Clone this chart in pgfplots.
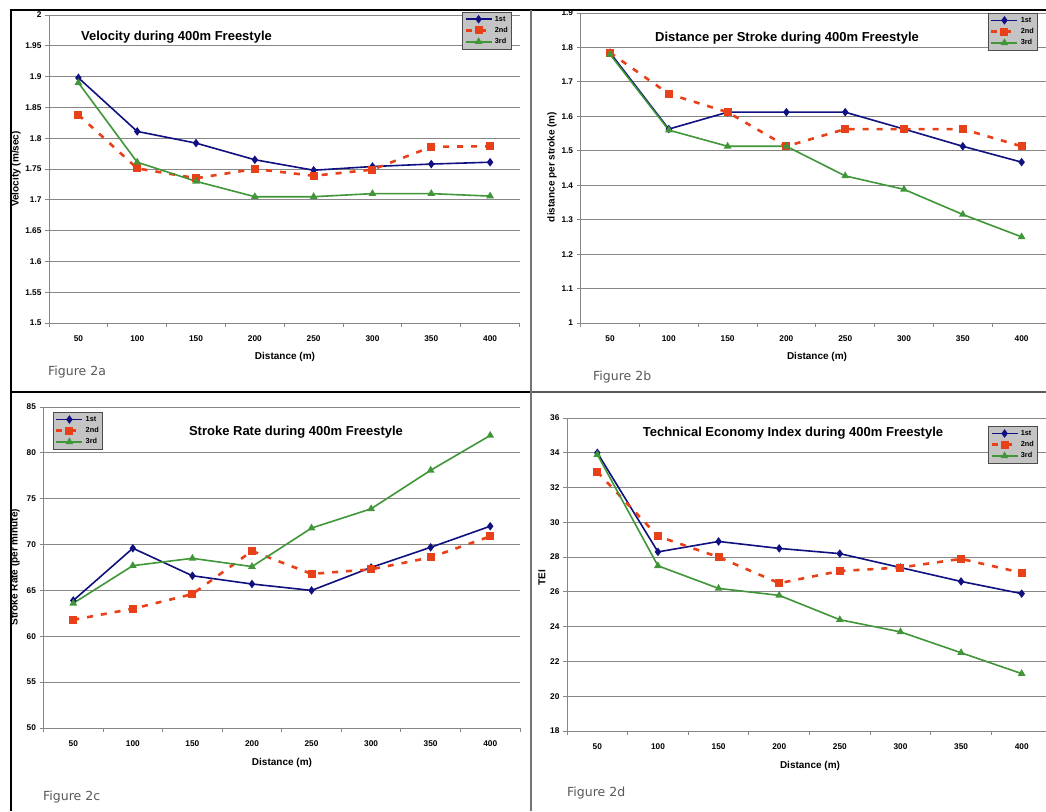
\documentclass[border=0pt]{standalone}
\usepackage{pgfplots}
\pgfplotsset{compat=1.18}
\usepackage{fontspec}
\setmainfont{Liberation Sans}
\newfontfamily\figfont{DejaVu Sans}

\definecolor{cfirst}{RGB}{16,16,128}
\definecolor{csecond}{RGB}{232,64,24}
\definecolor{cthird}{RGB}{64,150,56}
\definecolor{cgrid}{RGB}{135,135,135}
\definecolor{clegend}{RGB}{196,196,196}

\pgfplotsset{
  swim/.style={
    scale only axis,
    anchor=south west,
    xmin=-0.5, xmax=7.5,
    xtick={-0.5,0.5,...,7.5},
    xticklabels={,,,,,,,,,},
    extra x ticks={0,1,2,3,4,5,6,7},
    extra x tick labels={50,100,150,200,250,300,350,400},
    extra x tick style={major tick length=0pt},
    axis lines*=left,
    axis line style={cgrid, line width=0.9pt},
    tick style={cgrid, line width=0.9pt},
    tick align=outside,
    major tick length=4pt,
    ymajorgrids,
    grid style={cgrid, line width=0.9pt},
    /pgf/number format/assume math mode=true,
    tick label style={font=\bfseries\fontsize{8.3}{9}\selectfont},
    xticklabel style={yshift=-9pt},
    legend style={fill=clegend, draw=black!70, line width=0.6pt,
      font=\bfseries\fontsize{7.3}{8}\selectfont, inner sep=1.8pt, row sep=0.5pt,
      cells={anchor=west}},
    legend image code/.code={\draw[mark repeat=2,mark phase=2,##1] plot coordinates {(0pt,0pt) (13pt,0pt) (26pt,0pt)};},
  },
  sfirst/.style={cfirst, line width=1.6pt, mark=diamond*, mark size=3pt, mark options={solid}},
  ssecond/.style={csecond, line width=2.6pt, dash pattern=on 6pt off 8pt, mark=square*, mark size=2.7pt, mark options={solid}},
  sthird/.style={cthird, line width=1.6pt, mark=triangle*, mark size=2.9pt, mark options={solid}},
}

\begin{document}
\begin{tikzpicture}[x=1pt,y=1pt]
\path[use as bounding box] (0,0) rectangle (1046,811);
\fill[white] (0,0) rectangle (1046,811);
\clip (0,0) rectangle (1046,811);

% Figure 2a
\begin{axis}[swim, at={(49pt,488pt)}, width=470.5pt, height=308pt,
  ymin=1.5, ymax=2, ytick={1.5,1.55,1.6,1.65,1.7,1.75,1.8,1.85,1.9,1.95,2},
  legend style={at={(0.984,1.01)}, anchor=north east}]
\addplot[sfirst] coordinates {(0,1.898) (1,1.811) (2,1.792) (3,1.765) (4,1.748) (5,1.754) (6,1.758) (7,1.761)};
\addplot[ssecond] coordinates {(0,1.838) (1,1.751) (2,1.735) (3,1.750) (4,1.739) (5,1.749) (6,1.786) (7,1.787)};
\addplot[sthird] coordinates {(0,1.890) (1,1.761) (2,1.730) (3,1.705) (4,1.705) (5,1.710) (6,1.710) (7,1.706)};
\legend{1st,2nd,3rd}
\end{axis}

% Figure 2b
\begin{axis}[swim, at={(580.6pt,488pt)}, width=470.4pt, height=310pt,
  ymin=1, ymax=1.9, ytick={1,1.1,1.2,1.3,1.4,1.5,1.6,1.7,1.8,1.9},
  legend style={at={(0.972,1.0)}, anchor=north east}]
\addplot[sfirst] coordinates {(0,1.785) (1,1.563) (2,1.612) (3,1.612) (4,1.612) (5,1.563) (6,1.513) (7,1.467)};
\addplot[ssecond] coordinates {(0,1.785) (1,1.665) (2,1.612) (3,1.513) (4,1.563) (5,1.563) (6,1.563) (7,1.513)};
\addplot[sthird] coordinates {(0,1.780) (1,1.560) (2,1.513) (3,1.513) (4,1.427) (5,1.388) (6,1.315) (7,1.250)};
\legend{1st,2nd,3rd}
\end{axis}

% Figure 2c
\begin{axis}[swim, at={(43.5pt,83pt)}, width=476.5pt, height=321pt,
  ymin=50, ymax=85, ytick={50,55,60,65,70,75,80,85},
  legend style={at={(0.02,0.984)}, anchor=north west}]
\addplot[sfirst] coordinates {(0,63.9) (1,69.6) (2,66.6) (3,65.7) (4,65.0) (5,67.5) (6,69.7) (7,72.0)};
\addplot[ssecond] coordinates {(0,61.8) (1,63.0) (2,64.6) (3,69.3) (4,66.8) (5,67.3) (6,68.6) (7,70.9)};
\addplot[sthird] coordinates {(0,63.6) (1,67.7) (2,68.5) (3,67.6) (4,71.8) (5,73.9) (6,78.1) (7,81.9)};
\legend{1st,2nd,3rd}
\end{axis}

% Figure 2d
\begin{axis}[swim, at={(567pt,80pt)}, width=485pt, height=313pt,
  ymin=18, ymax=36, ytick={18,20,22,24,26,28,30,32,34,36},
  legend style={at={(0.971,0.974)}, anchor=north east}]
\addplot[sfirst] coordinates {(0,34.0) (1,28.3) (2,28.9) (3,28.5) (4,28.2) (5,27.4) (6,26.6) (7,25.9)};
\addplot[ssecond] coordinates {(0,32.9) (1,29.2) (2,28.0) (3,26.5) (4,27.2) (5,27.4) (6,27.9) (7,27.1)};
\addplot[sthird] coordinates {(0,33.9) (1,27.5) (2,26.2) (3,25.8) (4,24.4) (5,23.7) (6,22.5) (7,21.3)};
\legend{1st,2nd,3rd}
\end{axis}

% titles
\begin{scope}[every node/.style={font=\bfseries\fontsize{13}{15}\selectfont, inner sep=0pt}]
\node at (176.5,774) {Velocity during 400m Freestyle};
\node at (787,773) {Distance per Stroke during 400m Freestyle};
\node at (296,379) {Stroke Rate during 400m Freestyle};
\node at (793,378) {Technical Economy Index during 400m Freestyle};
\end{scope}

% axis labels
\begin{scope}[every node/.style={font=\bfseries\fontsize{10}{12}\selectfont, inner sep=0pt}]
\node at (285,454) {Distance (m)};
\node at (817,454) {Distance (m)};
\node at (282,48) {Distance (m)};
\node at (810,45) {Distance (m)};
\node[rotate=90] at (16,642) {Velocity (m/sec)};
\node[rotate=90] at (552,644) {distance per stroke (m)};
\node[rotate=90] at (15,244) {Stroke Rate (per minute)};
\node[rotate=90] at (542,233) {TEI};
\end{scope}

% figure captions
\begin{scope}[every node/.style={font=\figfont\fontsize{12.5}{14}\selectfont, text=black!65, inner sep=0pt, anchor=west}]
\node at (48,439) {Figure 2a};
\node at (593,434) {Figure 2b};
\node at (43,14) {Figure 2c};
\node at (567,18) {Figure 2d};
\end{scope}

% frame
\draw[black, line width=2pt] (10.5,0) -- (10.5,801);
\draw[black, line width=2pt] (9.5,801) -- (1046,801);
\draw[black, line width=1.6pt] (10,419) -- (531,419);
\draw[black!65, line width=1.6pt] (531,419) -- (1046,419);
\draw[black!55, line width=2.6pt] (531,0) -- (531,801);
\end{tikzpicture}
\end{document}
